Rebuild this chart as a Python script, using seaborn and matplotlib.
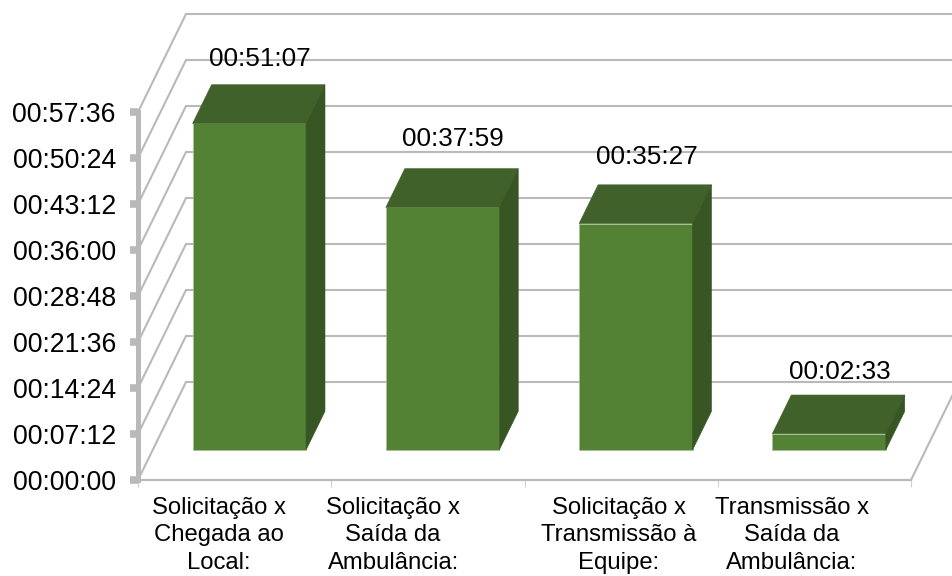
import matplotlib
matplotlib.use("Agg")
import matplotlib.pyplot as plt
import pandas as pd
import seaborn as sns
from matplotlib.ticker import FuncFormatter

# Tempos médios entre etapas do atendimento
categories = [
    "Solicitação x\nChegada ao\nLocal:",
    "Solicitação x\nSaída da\nAmbulância:",
    "Solicitação x\nTransmissão à\nEquipe:",
    "Transmissão x\nSaída da\nAmbulância:",
]
durations = ["00:51:07", "00:37:59", "00:35:27", "00:02:33"]
tick_step_seconds = 432
tick_count = 9


def to_seconds(text):
    h, m, s = (int(p) for p in text.split(":"))
    return h * 3600 + m * 60 + s


def to_clock(seconds, _pos=None):
    seconds = int(round(seconds))
    return f"{seconds // 3600:02d}:{seconds % 3600 // 60:02d}:{seconds % 60:02d}"


seconds = [to_seconds(d) for d in durations]
frame = pd.DataFrame({"etapa": categories, "tempo": seconds})

# Cores e geometria da projeção oblíqua
GRID = "#b9b9b9"
FRONT = "#548235"
TOP = "#40612a"
SIDE = "#375623"
EDGE = "#a9c096"
DEPTH_X = 48 / 193.25      # deslocamento do fundo, em unidades de categoria
DEPTH_Y = 98 / 46 * tick_step_seconds  # deslocamento do fundo, em segundos
BAR_START = 0.306
BAR_DEPTH = 0.395
BAR_WIDTH = 0.587

sns.set_theme(style="white")
plt.rcParams["font.family"] = ["Liberation Sans", "DejaVu Sans"]

fig = plt.figure(figsize=(9.52, 5.76), dpi=100)
ax = fig.add_axes([138 / 952, 96 / 576, 773 / 952, 368 / 576])
ax.patch.set_alpha(0)


def project(x, value, depth):
    return x + depth * DEPTH_X, value + depth * DEPTH_Y


sns.barplot(data=frame, x="etapa", y="tempo", width=BAR_WIDTH, color=FRONT,
            saturation=1, ax=ax, zorder=4, clip_on=False)

ax.set_xlim(-0.5, 3.5)
ax.set_ylim(0, tick_step_seconds * (tick_count - 1))
ax.set(xlabel="", ylabel="")

# Paredes: linhas de grade no piso lateral e no fundo
for k in range(tick_count):
    v = k * tick_step_seconds
    pts = [project(-0.5, v, 0), project(-0.5, v, 1), project(3.5, v, 1)]
    ax.plot(*zip(*pts), color=GRID, lw=1.5, clip_on=False, zorder=1,
            solid_joinstyle="miter")
ax.plot(*zip(project(3.5, 0, 0), project(3.5, 0, 1)), color=GRID, lw=1.5,
        clip_on=False, zorder=1)

# Barras: face frontal recuada e faces superior e lateral
label_lift = [26, 30, 28, 23]
for patch, value, text, lift in zip(ax.patches, seconds, durations, label_lift):
    x0 = patch.get_x()
    x1 = x0 + patch.get_width()
    fx, fy = project(0, 0, BAR_START)
    patch.set_x(x0 + fx)
    patch.set_y(fy)
    patch.set_edgecolor(EDGE)
    patch.set_linewidth(0.5)
    patch.set_facecolor(FRONT)
    near = BAR_START
    far = BAR_START + BAR_DEPTH
    top = [project(x0, value, near), project(x1, value, near),
           project(x1, value, far), project(x0, value, far)]
    side = [project(x1, 0, near), project(x1, 0, far),
            project(x1, value, far), project(x1, value, near)]
    ax.fill(*zip(*top), facecolor=TOP, edgecolor=TOP, lw=0.4, clip_on=False, zorder=5)
    ax.fill(*zip(*side), facecolor=SIDE, edgecolor=SIDE, lw=0.4, clip_on=False, zorder=5)
    ax.annotate(text, project((x0 + x1) / 2, value, far), xytext=(-6, lift * 0.72),
                textcoords="offset points", ha="center", va="center",
                fontsize=18.8, color="black", zorder=6, annotation_clip=False)

# Eixo de valores
ax.set_yticks([k * tick_step_seconds for k in range(tick_count)])
ax.yaxis.set_major_formatter(FuncFormatter(to_clock))
ax.tick_params(axis="y", length=5.5, width=5.5, color=GRID, pad=10.5,
               labelsize=19.2, labelcolor="black", left=True)

# Eixo de categorias: marcas nos limites e rótulos deslocados como no gráfico original
label_centers = [-0.081, 0.82, 1.989, 2.884]
ax.set_xticks(label_centers)
ax.set_xticklabels(categories, fontsize=17.2, color="black", linespacing=1.3)
ax.set_xticks([-0.5, 0.5, 1.5, 2.5, 3.5], minor=True)
ax.tick_params(axis="x", which="major", length=0, pad=12.5)
ax.tick_params(axis="x", which="minor", length=5, width=0.8, color="#d0d0d0",
               bottom=True)

for name in ("top", "right"):
    ax.spines[name].set_visible(False)
ax.spines["left"].set_color(GRID)
ax.spines["left"].set_linewidth(3.6)
ax.spines["bottom"].set_color(GRID)
ax.spines["bottom"].set_linewidth(1.6)

fig.savefig("out.png", dpi=100, facecolor="white")
